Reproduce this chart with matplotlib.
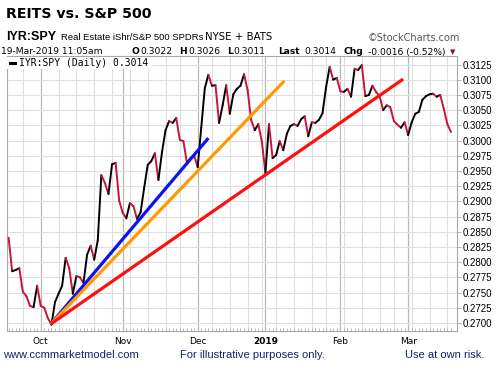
import numpy as np
import pandas as pd
import matplotlib
matplotlib.use("Agg")
import matplotlib.pyplot as plt
from matplotlib.collections import LineCollection
from matplotlib.patches import Rectangle

W, H = 502, 369

# ---- data (IYR:SPY daily close) ---------------------------------------------
HOLIDAYS = ["2018-11-22", "2018-12-05", "2018-12-25",
            "2019-01-01", "2019-01-21", "2019-02-18"]
dates = pd.bdate_range("2018-09-18", "2019-03-19", freq="C", holidays=HOLIDAYS)

ratio = [
    0.2840, 0.2785, 0.2787, 0.2790, 0.2751, 0.2744, 0.2728, 0.2726, 0.2761, 0.2728,
    0.2725, 0.2708, 0.2697, 0.2734, 0.2748, 0.2761, 0.2807, 0.2790, 0.2748, 0.2777,
    0.2775, 0.2766, 0.2812, 0.2827, 0.2804, 0.2836, 0.2943, 0.2930, 0.2912, 0.2961,
    0.2963, 0.2901, 0.2881, 0.2872, 0.2897, 0.2892, 0.2871, 0.2882, 0.2922, 0.2960,
    0.2966, 0.2979, 0.2935, 0.2981, 0.3017, 0.3032, 0.3029, 0.3037, 0.3001, 0.2999,
    0.2963, 0.2971, 0.2976, 0.2956, 0.3021, 0.3086, 0.3108, 0.3090, 0.3091, 0.3029,
    0.3058, 0.3091, 0.3044, 0.3076, 0.3085, 0.3090, 0.3109, 0.3083, 0.3034, 0.3017,
    0.3027, 0.2998, 0.2947, 0.3027, 0.2971, 0.2976, 0.2999, 0.2984, 0.3011, 0.3024,
    0.3027, 0.3024, 0.3035, 0.3040, 0.3007, 0.3030, 0.3029, 0.3034, 0.3045, 0.3088,
    0.3121, 0.3100, 0.3103, 0.3081, 0.3080, 0.3085, 0.3072, 0.3118, 0.3116, 0.3124,
    0.3073, 0.3075, 0.3090, 0.3080, 0.3073, 0.3050, 0.3058, 0.3055, 0.3032, 0.3026,
    0.3021, 0.3030, 0.3009, 0.3030, 0.3044, 0.3047, 0.3067, 0.3073, 0.3076, 0.3077,
    0.3072, 0.3075, 0.3052, 0.3027, 0.3014,
]
n = min(len(ratio), len(dates))
ratio = np.array(ratio[:n])
dates = dates[:n]

# hand-drawn trend lines: (start index, start value, end index, end value)
trend_start = (11.8, 0.2698)
trend_ends = {"blue": (56.0, 0.3004), "orange": (77.3, 0.3098), "red": (110.6, 0.3101)}
TREND_COLORS = {"blue": "#0a14f0", "orange": "#ff9a00", "red": "#ff1010"}

month_labels = ["Oct", "Nov", "Dec", "2019", "Feb", "Mar"]
y_ticks = np.round(np.arange(0.2700, 0.31251, 0.0025), 4)

# ---- palette ----------------------------------------------------------------
UP = "#000000"
DOWN = "#c8143c"
GRID = "#dedede"
GRID_MAJ = "#b8b8b8"
FRAME = "#a8a8a8"
NAVY = "#17206a"

fig = plt.figure(figsize=(W / 100, H / 100), dpi=100)
fig.patch.set_facecolor("white")


def fx(x):
    return x / W


def fy(y):
    return 1 - y / H


ax = fig.add_axes([fx(7), fy(331), fx(457) - fx(7), fy(56) - fy(331)])
x = np.arange(n)

# grid: weekly light lines, monthly darker lines, horizontal every 0.0025
month_idx = [i for i in range(1, n) if dates[i].month != dates[i - 1].month]
week_idx = [i for i in range(1, n)
            if dates[i].isocalendar()[1] != dates[i - 1].isocalendar()[1]
            and i not in month_idx]
for i in week_idx:
    ax.axvline(i, color=GRID, lw=0.8, zorder=1)
for i in month_idx:
    ax.axvline(i, color=GRID_MAJ, lw=0.9, zorder=1)
for v in y_ticks:
    ax.axhline(v, color=GRID, lw=0.8, zorder=1)

# daily tick dots along the bottom
ax.vlines(x, 0, 0.01, transform=ax.get_xaxis_transform(), color="#b0b0b0",
          lw=0.6, zorder=2)

# price line coloured by up / down day
pts = np.column_stack([x, ratio])
segs = np.stack([pts[:-1], pts[1:]], axis=1)
cols = [UP if ratio[i + 1] >= ratio[i] else DOWN for i in range(n - 1)]
ax.add_collection(LineCollection(segs, colors=cols, linewidths=1.4, zorder=4,
                                 capstyle="round", joinstyle="round"))

# trend lines
for name, (xe, ye) in trend_ends.items():
    ax.plot([trend_start[0], xe], [trend_start[1], ye], color=TREND_COLORS[name],
            lw=2.3, solid_capstyle="butt", zorder=5)

ax.set_xlim(-0.45, 125.7)
ax.set_ylim(0.26867, 0.3139)

ax.yaxis.tick_right()
ax.set_yticks(y_ticks)
ax.set_yticklabels([f"{v:.4f}" for v in y_ticks], fontsize=7,
                   family="Liberation Sans")
ax.tick_params(axis="y", length=3, width=0.6, color=FRAME, pad=1)

ax.set_xticks(month_idx)
ax.set_xticklabels(month_labels[:len(month_idx)], fontsize=6.5)
for lab in ax.get_xticklabels():
    if lab.get_text() == "2019":
        lab.set_fontweight("bold")
ax.tick_params(axis="x", length=0, pad=4)

for s in ax.spines.values():
    s.set_color(FRAME)
    s.set_linewidth(0.8)

# legend box (top-left inside plot)
ax.add_patch(Rectangle((fx(7.5), fy(69)), fx(152) - fx(7.5), fy(57) - fy(69),
                       transform=fig.transFigure, facecolor="white",
                       edgecolor="none", zorder=6))
fig.add_artist(plt.Line2D([fx(9.5), fx(15)], [fy(63.3), fy(63.3)], color="black",
                          lw=2.2, zorder=7))
fig.text(fx(19.5), fy(63.5), "IYR:SPY (Daily) 0.3014", fontsize=7,
         family="DejaVu Sans Mono", va="center", zorder=7)

# ---- header -----------------------------------------------------------------
fig.text(fx(6), fy(14), "REITS vs. S&P 500", fontsize=10.2, weight="bold",
         va="center", family="DejaVu Sans")

fig.text(fx(6.5), fy(37), "IYR:SPY", fontsize=9, weight="bold", va="center",
         family="Liberation Sans")
fig.text(fx(61.5), fy(37), "Real Estate iShr/S&P 500 SPDRs", fontsize=6.8,
         va="center", family="Liberation Sans")
fig.text(fx(205), fy(37), "NYSE + BATS", fontsize=7.3, va="center")
fig.text(fx(368), fy(38), "\u00a9StockCharts.com", fontsize=7, va="center",
         color="#555555")

line3 = [
    (1, "19-Mar-2019 11:05am", "normal"),
    (131.5, "O", "bold"), (140, "0.3022", "normal"),
    (179.5, "H", "bold"), (188.3, "0.3026", "normal"),
    (227.5, "L", "bold"), (233.5, "0.3011", "normal"),
    (278.3, "Last", "bold"), (304.3, "0.3014", "normal"),
    (344, "Chg", "bold"), (368.3, "-0.0016 (-0.52%)", "normal"),
]
for xp, s, w in line3:
    fig.text(fx(xp), fy(52), s, fontsize=6.6, weight=w, va="center",
             family="DejaVu Sans")
fig.text(fx(450), fy(52.5), "\u25bc", fontsize=5, color="#8b0a2a", va="center")

# ---- footer -----------------------------------------------------------------
fig.text(fx(3), fy(355), "www.ccmmarketmodel.com", fontsize=8, color=NAVY,
         va="center", family="Liberation Sans")
fig.text(fx(180), fy(355), "For illustrative purposes only.", fontsize=8,
         color=NAVY, va="center", family="Liberation Sans")
fig.text(fx(405), fy(355), "Use at own risk.", fontsize=8, color=NAVY,
         va="center", family="Liberation Sans")

fig.savefig("out.png", dpi=100)
